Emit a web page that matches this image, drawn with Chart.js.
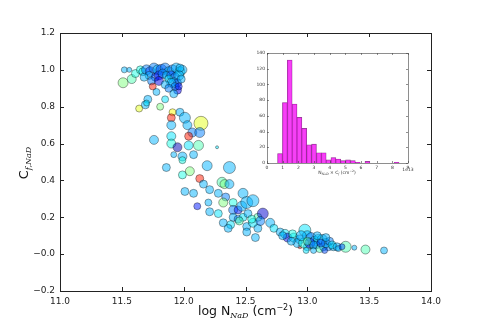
<!DOCTYPE html>
<html>
<head>
<meta charset="utf-8">
<script src="https://cdn.jsdelivr.net/npm/chart.js@4.4.1/dist/chart.umd.min.js"></script>
<style>
  body { margin: 0; background: #fff; }
  #wrap { position: relative; width: 480px; height: 323px; }
  #main { position: absolute; left: 0; top: 0; }
  #inset { position: absolute; left: 240px; top: 40px; }
</style>
</head>
<body>
<div id="wrap">
  <canvas id="main" width="480" height="323"></canvas>
  <canvas id="inset" width="180" height="140"></canvas>
</div>
<script>
// ---------------- scatter data: log N, C_f, marker radius, colour value ----------------
const xs = [
  11.52, 11.56, 11.51, 11.58, 11.61, 11.65, 11.67, 11.70, 11.73, 11.76, 11.79, 11.82, 11.85, 11.88, 11.91, 11.94,
  11.97, 11.99, 11.72, 11.77, 11.80, 11.83, 11.86, 11.90, 11.93, 11.96, 11.74, 11.68, 11.80, 11.88, 11.92, 11.95,
  11.98, 11.75, 11.78, 11.85, 11.71, 11.69, 11.64, 11.81, 11.95, 11.90, 11.97, 11.93, 11.85, 11.88, 11.92, 11.96,
  11.70,
  11.91, 11.90, 11.97, 12.01, 11.90, 12.03, 12.14, 12.07, 12.13, 12.04, 11.76, 11.90, 11.90, 11.95, 12.04, 12.12,
  12.27, 11.92, 11.99, 11.99, 12.08, 11.86, 12.19, 12.37, 12.05, 11.99, 12.13,
  12.16, 12.21, 12.31, 12.33, 12.37, 12.01, 12.08, 12.28, 12.34, 12.48, 12.32, 12.40, 12.20, 12.11, 12.21, 12.28,
  12.40, 12.44, 12.47, 12.51, 12.56, 12.40, 12.44, 12.48, 12.52, 12.60, 12.64, 12.32, 12.38, 12.36, 12.51, 12.56,
  12.60, 12.70, 12.73, 12.51, 12.58, 12.45, 12.55, 12.62,
  12.78, 12.82, 12.84, 12.80, 12.89, 12.94, 12.98, 13.00, 13.03, 13.06, 13.09, 13.12, 12.94, 13.00, 13.03, 13.07,
  13.10, 13.13, 13.17, 13.21, 13.31, 13.38, 13.47, 13.62, 12.92, 12.97, 13.02, 13.05, 13.15, 13.18, 13.20, 13.24,
  13.11, 12.95, 12.88, 12.87, 13.08, 13.15, 13.00, 12.99, 13.05, 13.14, 13.25, 13.28
];
const ys = [
  1.00, 1.00, 0.93, 0.95, 0.98, 1.00, 0.99, 1.00, 0.99, 1.01, 1.00, 1.00, 1.01, 0.99, 1.00, 1.01,
  0.99, 1.00, 0.97, 0.96, 0.97, 0.98, 0.97, 0.97, 0.96, 0.97, 0.94, 0.96, 0.94, 0.95, 0.93, 0.93,
  0.95, 0.91, 0.88, 0.84, 0.84, 0.81, 0.79, 0.80, 0.89, 0.93, 1.01, 0.91, 0.92, 0.90, 0.87, 0.91,
  0.82,
  0.77, 0.74, 0.77, 0.74, 0.70, 0.70, 0.71, 0.66, 0.66, 0.64, 0.62, 0.64, 0.60, 0.58, 0.59, 0.59,
  0.58, 0.54, 0.53, 0.51, 0.54, 0.47, 0.48, 0.47, 0.45, 0.43, 0.41,
  0.38, 0.35, 0.39, 0.38, 0.38, 0.34, 0.33, 0.33, 0.31, 0.33, 0.28, 0.28, 0.28, 0.26, 0.23, 0.22,
  0.24, 0.24, 0.26, 0.28, 0.29, 0.20, 0.19, 0.20, 0.22, 0.20, 0.22, 0.17, 0.16, 0.14, 0.15, 0.17,
  0.14, 0.17, 0.14, 0.12, 0.09, 0.18, 0.19, 0.18,
  0.12, 0.11, 0.09, 0.10, 0.09, 0.08, 0.13, 0.10, 0.09, 0.07, 0.08, 0.08, 0.04, 0.04, 0.04, 0.05,
  0.03, 0.04, 0.04, 0.04, 0.04, 0.035, 0.025, 0.02, 0.06, 0.06, 0.06, 0.05, 0.06, 0.07, 0.05, 0.04,
  0.06, 0.10, 0.11, 0.07, 0.10, 0.09, 0.07, 0.02, 0.02, 0.02, 0.03, 0.04
];
const rs = [
  3, 2.5, 5, 4.5, 4, 4, 4, 5, 5, 5, 5, 5.5, 5, 5, 5, 5,
  5, 4.5, 4, 4, 4.5, 4.5, 4, 4.5, 4.5, 5, 4, 4, 4.5, 4, 5, 4,
  4, 3.5, 3.5, 3.5, 4, 4, 3.5, 3.5, 4, 4.5, 4, 4, 4, 4, 4, 3.5,
  3,
  3.5, 4, 4, 5.5, 4.5, 4.5, 7, 4.5, 5, 4, 4.5, 4.5, 4.5, 4.5, 4.5, 5,
  1.5, 3, 4.5, 3.5, 4, 4, 5, 6, 4.5, 4, 4,
  4, 4, 5, 4.5, 4.5, 4, 4, 4, 4, 5, 4.5, 4, 3.5, 3.5, 4, 4,
  4.5, 4, 5, 6, 6, 4, 4, 4, 4, 4, 5.5, 4, 4, 4, 4, 4.5,
  4, 4.5, 4, 4, 4, 4, 4, 4.5,
  4, 4.5, 4.5, 4, 4.5, 4.5, 6, 5, 5, 5, 5, 5, 2, 4, 2, 4,
  4, 4, 4, 4, 5.5, 2.5, 4.5, 3.5, 4.5, 5, 5, 4, 4.5, 4, 4, 4,
  4, 5, 4, 4, 4, 4, 4, 3, 3, 3, 3, 3
];
const cs = [
  0.3, 0.3, 0.5, 0.45, 0.4, 0.4, 0.35, 0.25, 0.2, 0.25, 0.3, 0.2, 0.25, 0.3, 0.25, 0.3,
  0.35, 0.3, 0.3, 0.2, 0.15, 0.25, 0.3, 0.2, 0.25, 0.3, 0.25, 0.3, 0.1, 0.35, 0.3, 0.2,
  0.3, 0.85, 0.3, 0.35, 0.3, 0.3, 0.6, 0.5, 0.12, 0.3, 0.3, 0.25, 0.3, 0.25, 0.3, 0.15,
  0.35,
  0.62, 0.85, 0.3, 0.3, 0.3, 0.3, 0.6, 0.25, 0.25, 0.85, 0.3, 0.35, 0.4, 0.05, 0.35, 0.45,
  0.35, 0.3, 0.3, 0.4, 0.3, 0.3, 0.3, 0.3, 0.5, 0.4, 0.85,
  0.3, 0.3, 0.45, 0.5, 0.3, 0.3, 0.3, 0.3, 0.25, 0.3, 0.5, 0.4, 0.3, 0.15, 0.3, 0.35,
  0.25, 0.15, 0.3, 0.3, 0.3, 0.3, 0.25, 0.35, 0.3, 0.45, 0.08, 0.3, 0.35, 0.3, 0.3, 0.35,
  0.3, 0.3, 0.35, 0.3, 0.3, 0.45, 0.4, 0.25,
  0.3, 0.35, 0.1, 0.3, 0.35, 0.3, 0.35, 0.3, 0.25, 0.3, 0.35, 0.3, 0.85, 0.3, 0.6, 0.25,
  0.45, 0.3, 0.25, 0.3, 0.45, 0.3, 0.45, 0.3, 0.3, 0.4, 0.15, 0.3, 0.3, 0.25, 0.35, 0.3,
  0.2, 0.3, 0.4, 0.3, 0.3, 0.3, 0.45, 0.35, 0.3, 0.2, 0.3, 0.2
];

// ---------------- inset histogram ----------------
const binCenters = [0.83, 1.14, 1.45, 1.76, 2.07, 2.38, 2.69, 3.00, 3.31, 3.62, 3.93, 4.24, 4.55,
                    4.86, 5.17, 5.48, 5.79, 6.10, 6.41, 6.72, 7.03, 7.34, 7.65, 7.96, 8.27];
const binCounts = [12, 77, 131, 75, 58, 44, 23, 24, 13, 13, 4, 7, 5, 3, 4, 3, 1, 0, 2, 0, 0, 0, 0, 0, 1];

// jet colormap
function jet(v, a) {
  const cl = (t) => Math.max(0, Math.min(1, t));
  const r = cl(Math.min(4 * v - 1.5, -4 * v + 4.5));
  const g = cl(Math.min(4 * v - 0.5, -4 * v + 3.5));
  const b = cl(Math.min(4 * v + 0.5, -4 * v + 2.5));
  return "rgba(" + Math.round(r * 255) + "," + Math.round(g * 255) + "," + Math.round(b * 255) + "," + a + ")";
}

const FONT = "'DejaVu Sans', sans-serif";

// draws a line of text made of parts (sub / superscripts), centred on x
function richText(ctx, parts, x, y) {
  let w = 0;
  parts.forEach((p) => { ctx.font = p.f; w += ctx.measureText(p.t).width; });
  let cx = x - w / 2;
  ctx.textAlign = "left";
  ctx.textBaseline = "alphabetic";
  parts.forEach((p) => {
    ctx.font = p.f;
    ctx.fillText(p.t, cx, y + (p.dy || 0));
    cx += ctx.measureText(p.t).width;
  });
}

// frame with inward ticks on all four sides (matplotlib look)
const frameTicks = {
  id: "frameTicks",
  beforeDraw(chart, args, opts) {
    if (!opts.bg) return;
    const a = chart.chartArea, ctx = chart.ctx;
    ctx.save();
    ctx.fillStyle = opts.bg;
    ctx.fillRect(a.left, a.top, a.right - a.left, a.bottom - a.top);
    ctx.restore();
  },
  afterDraw(chart, args, opts) {
    const { ctx, chartArea: a } = chart;
    const x = chart.scales.x, y = chart.scales.y;
    const len = opts.len || 4;
    ctx.save();
    ctx.strokeStyle = opts.color || "#222";
    ctx.lineWidth = opts.width || 1;
    ctx.beginPath();
    x.ticks.forEach((t) => {
      const px = Math.round(x.getPixelForValue(t.value)) + 0.5;
      ctx.moveTo(px, a.bottom); ctx.lineTo(px, a.bottom - len);
      ctx.moveTo(px, a.top); ctx.lineTo(px, a.top + len);
    });
    y.ticks.forEach((t) => {
      const py = Math.round(y.getPixelForValue(t.value)) + 0.5;
      ctx.moveTo(a.left, py); ctx.lineTo(a.left + len, py);
      ctx.moveTo(a.right, py); ctx.lineTo(a.right - len, py);
    });
    ctx.stroke();
    ctx.strokeRect(Math.round(a.left) + 0.5, Math.round(a.top) + 0.5,
                   Math.round(a.right - a.left), Math.round(a.bottom - a.top));
    ctx.restore();
    if (opts.labels) opts.labels(ctx, a);
  }
};

//-------------------------------------main scatter---------------------------------------------
const points = xs.map((x, i) => ({ x: x, y: ys[i], r: rs[i] }));

new Chart(document.getElementById("main"), {
  type: "bubble",
  data: {
    datasets: [{
      data: points,
      backgroundColor: cs.map((c) => jet(c, 0.5)),
      borderColor: "rgba(0,0,0,0.45)",
      borderWidth: 0.8,
      hoverRadius: 0,
    }],
  },
  options: {
    responsive: false,
    animation: false,
    events: [],
    layout: { padding: { top: 33, right: 49, left: 0, bottom: 0 } },
    plugins: {
      legend: { display: false },
      tooltip: { enabled: false },
      frameTicks: {
        len: 4,
        labels(ctx, a) {
          ctx.save();
          ctx.fillStyle = "#111";
          richText(ctx, [
            { t: "log N", f: "12.5px " + FONT },
            { t: "NaD", f: "italic 8px 'DejaVu Serif', serif", dy: 3 },
            { t: " (cm", f: "12.5px " + FONT },
            { t: "\u22122", f: "8px " + FONT, dy: -5 },
            { t: ")", f: "12.5px " + FONT },
          ], (a.left + a.right) / 2, 315);
          ctx.translate(28, 163);
          ctx.rotate(-Math.PI / 2);
          richText(ctx, [
            { t: "C", f: "13px " + FONT },
            { t: "f,NaD", f: "italic 8px 'DejaVu Serif', serif", dy: 3 },
          ], 0, 0);
          ctx.restore();
        },
      },
    },
    scales: {
      x: {
        type: "linear", min: 11, max: 14,
        grid: { display: false, drawTicks: false },
        border: { display: false },
        afterFit(s) { s.height = 32; },
        ticks: {
          stepSize: 0.5, padding: 5, color: "#222",
          font: { family: FONT, size: 9 },
          callback: (v) => v.toFixed(1),
        },
      },
      y: {
        type: "linear", min: -0.2, max: 1.2,
        grid: { display: false, drawTicks: false },
        border: { display: false },
        afterFit(s) { s.width = 60; },
        ticks: {
          stepSize: 0.2, padding: 5, color: "#222",
          font: { family: FONT, size: 9 },
          callback: (v) => v.toFixed(1).replace("-", "\u2212"),
        },
      },
    },
  },
  plugins: [frameTicks],
});

//-------------------------------------inset histogram---------------------------------------------
new Chart(document.getElementById("inset"), {
  type: "bar",
  data: {
    datasets: [{
      data: binCenters.map((x, i) => ({ x: x, y: binCounts[i] })),
      backgroundColor: "rgba(245,30,245,0.85)",
      borderColor: "rgba(110,20,110,0.8)",
      borderWidth: 0.6,
      barPercentage: 1,
      categoryPercentage: 1,
    }],
  },
  options: {
    responsive: false,
    animation: false,
    events: [],
    layout: { padding: { top: 13, right: 12, left: 0, bottom: 0 } },
    plugins: {
      legend: { display: false },
      tooltip: { enabled: false },
      frameTicks: {
        len: 2, width: 0.6, color: "#444", bg: "#fff",
        labels(ctx, a) {
          ctx.save();
          ctx.fillStyle = "#333";
          richText(ctx, [
            { t: "N", f: "4.5px " + FONT },
            { t: "NaD", f: "italic 3px 'DejaVu Serif', serif", dy: 1 },
            { t: " \u00d7 C", f: "4.5px " + FONT },
            { t: "f", f: "italic 3px 'DejaVu Serif', serif", dy: 1 },
            { t: " (cm", f: "4.5px " + FONT },
            { t: "\u22122", f: "3px " + FONT, dy: -2 },
            { t: ")", f: "4.5px " + FONT },
          ], 97, 134);
          ctx.font = "4.5px " + FONT;
          ctx.textAlign = "center";
          ctx.fillText("1e13", a.right, 131);
          ctx.restore();
        },
      },
    },
    scales: {
      x: {
        type: "linear", min: 0, max: 9, offset: false,
        grid: { display: false, drawTicks: false },
        border: { display: false },
        afterFit(s) { s.height = 17; },
        ticks: { stepSize: 1, padding: 2, color: "#333", font: { family: FONT, size: 4.5 } },
      },
      y: {
        type: "linear", min: 0, max: 140,
        grid: { display: false, drawTicks: false },
        border: { display: false },
        afterFit(s) { s.width = 27; },
        ticks: { stepSize: 20, padding: 2, color: "#333", font: { family: FONT, size: 4.5 } },
      },
    },
  },
  plugins: [frameTicks],
});
</script>
</body>
</html>
